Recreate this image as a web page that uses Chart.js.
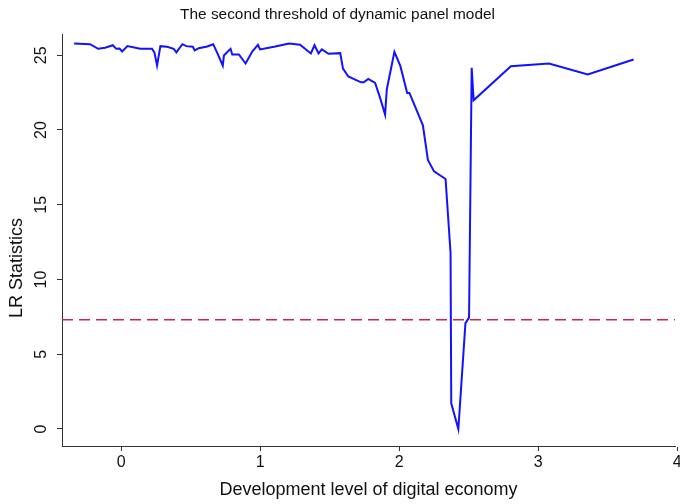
<!DOCTYPE html>
<html>
<head>
<meta charset="utf-8">
<script src="https://cdn.jsdelivr.net/npm/chart.js@4/dist/chart.umd.min.js"></script>
<style>
  html, body { margin: 0; padding: 0; background: #ffffff; }
  canvas { display: block; }
</style>
</head>
<body>
<canvas id="chart" width="680" height="504"></canvas>
<script>
// Threshold variable: development level of digital economy
const level = [
  -0.339, -0.224, -0.166, -0.116, -0.060, -0.036, -0.012, 0.007, 0.045, 0.137,
  0.222, 0.240, 0.258, 0.282, 0.330, 0.378, 0.397, 0.440, 0.469, 0.515,
  0.529, 0.558, 0.619, 0.662, 0.691, 0.731, 0.739, 0.787, 0.799, 0.847,
  0.895, 0.944, 0.984, 0.999, 1.100, 1.208, 1.287, 1.365, 1.391, 1.420,
  1.444, 1.492, 1.576, 1.596, 1.634, 1.726, 1.745, 1.778, 1.827, 1.863,
  1.899, 1.911, 1.966, 2.009, 2.058, 2.074, 2.171, 2.207, 2.251, 2.334,
  2.370, 2.375, 2.426, 2.477, 2.503, 2.522, 2.536, 2.804, 3.078, 3.357,
  3.687
];

// Likelihood-ratio statistic at each candidate threshold
const lrStat = [
  25.79, 25.74, 25.43, 25.50, 25.67, 25.43, 25.45, 25.25, 25.61, 25.43,
  25.43, 25.16, 24.31, 25.61, 25.57, 25.43, 25.20, 25.74, 25.61, 25.57,
  25.32, 25.47, 25.59, 25.74, 25.16, 24.31, 24.98, 25.43, 25.05, 25.05,
  24.45, 25.27, 25.70, 25.39, 25.57, 25.79, 25.70, 25.12, 25.67, 25.12,
  25.39, 25.10, 25.14, 24.11, 23.58, 23.19, 23.19, 23.42, 23.15, 22.15,
  21.03, 22.71, 25.23, 24.27, 22.48, 22.48, 20.31, 18.00, 17.23, 16.72,
  11.77, 1.72, 0.00, 7.08, 7.45, 24.16, 21.99, 24.27, 24.45, 23.71,
  24.72
];

// 95% critical value
const criticalValue = [7.3];

const xTicks = [0, 1, 2, 3, 4];
const yTicks = [0, 5, 10, 15, 20, 25];
const xRange = [-0.426, 3.985];
const yRange = [-1.14, 26.39];

const FONT = 'Liberation Sans, Arial, Helvetica, sans-serif';
const AXIS_COLOR = '#333333';
const TEXT_COLOR = '#111111';

const lrPoints = level.map((v, i) => ({ x: v, y: lrStat[i] }));
const critPoints = [
  { x: xRange[0], y: criticalValue[0] },
  { x: xRange[1], y: criticalValue[0] }
];

// Vertical (rotated) y tick labels placed with the y scale, plus the y-axis title
const rotatedYText = {
  id: 'rotatedYText',
  afterDraw(chart) {
    const ctx = chart.ctx;
    const y = chart.scales.y;
    ctx.save();
    ctx.fillStyle = TEXT_COLOR;
    ctx.font = '16px ' + FONT;
    ctx.textAlign = 'center';
    ctx.textBaseline = 'alphabetic';
    yTicks.forEach(v => {
      const py = y.getPixelForValue(v);
      ctx.save();
      ctx.translate(46, py);
      ctx.rotate(-Math.PI / 2);
      ctx.fillText(String(v), 0, 0);
      ctx.restore();
    });
    ctx.font = '18px ' + FONT;
    ctx.textBaseline = 'middle';
    ctx.translate(17, 268);
    ctx.rotate(-Math.PI / 2);
    ctx.fillText('LR Statistics', 0, 0);
    ctx.restore();
  }
};

new Chart(document.getElementById('chart'), {
  type: 'line',
  data: {
    datasets: [
      {
        label: 'LR',
        data: lrPoints,
        borderColor: '#1212ff',
        borderWidth: 2,
        pointRadius: 0,
        tension: 0,
        fill: false
      },
      {
        label: 'Critical value',
        data: critPoints,
        borderColor: '#c8244c',
        borderWidth: 1.5,
        borderDash: [11, 6],
        pointRadius: 0,
        fill: false
      }
    ]
  },
  options: {
    responsive: false,
    devicePixelRatio: 1,
    animation: false,
    layout: { padding: { left: 0, right: 5, top: 0, bottom: 0 } },
    plugins: {
      legend: { display: false },
      tooltip: { enabled: false },
      title: {
        display: true,
        text: 'The second threshold of dynamic panel model',
        color: TEXT_COLOR,
        font: { family: FONT, size: 15.4, weight: 'normal' },
        padding: { top: 6, bottom: 10 }
      }
    },
    scales: {
      x: {
        type: 'linear',
        min: xRange[0],
        max: xRange[1],
        afterBuildTicks: s => { s.ticks = xTicks.map(v => ({ value: v })); },
        afterFit: s => { s.height = 58; s.paddingLeft = 0; s.paddingRight = 0; },
        grid: { drawOnChartArea: false, drawTicks: true, tickLength: 5, color: AXIS_COLOR },
        border: { display: true, color: AXIS_COLOR, width: 1 },
        ticks: {
          color: TEXT_COLOR,
          font: { family: FONT, size: 16 },
          padding: 2,
          maxRotation: 0,
          autoSkip: false
        },
        title: {
          display: true,
          text: 'Development level of digital economy',
          color: TEXT_COLOR,
          font: { family: FONT, size: 18 },
          padding: { top: 0, bottom: 3 }
        }
      },
      y: {
        type: 'linear',
        min: yRange[0],
        max: yRange[1],
        afterBuildTicks: s => { s.ticks = yTicks.map(v => ({ value: v })); },
        afterFit: s => { s.width = 62; s.paddingTop = 0; s.paddingBottom = 0; },
        grid: { drawOnChartArea: false, drawTicks: true, tickLength: 5, color: AXIS_COLOR },
        border: { display: true, color: AXIS_COLOR, width: 1 },
        ticks: { display: false },
        title: { display: false }
      }
    }
  },
  plugins: [rotatedYText]
});
</script>
</body>
</html>
